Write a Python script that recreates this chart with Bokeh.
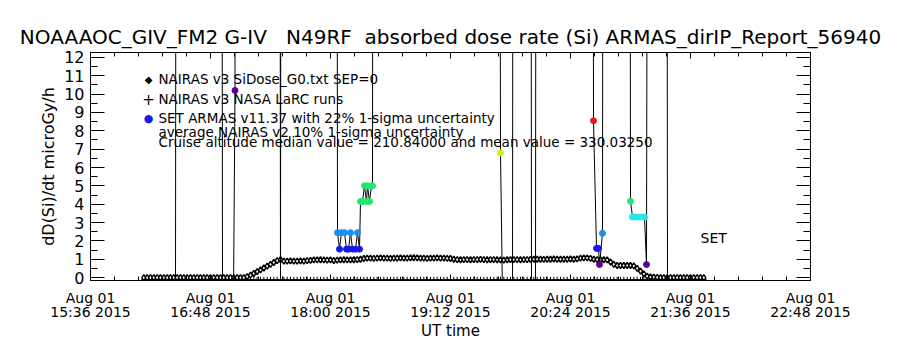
import numpy as np
from bokeh.plotting import figure
from bokeh.models import (Range1d, LinearAxis, FixedTicker, Label, Title,
                          ColumnDataSource, LinearColorMapper)
from bokeh.transform import transform
from bokeh.embed import file_html
from bokeh.resources import INLINE

# ---------------- data (time = minutes after 00:00 UT, Aug 01 2015) ----------------
TICK_MIN = [936, 1008, 1080, 1152, 1224, 1296, 1368]
TICK_DATES = ["Aug 01"] * 7
TICK_TIMES = ["15:36 2015", "16:48 2015", "18:00 2015", "19:12 2015",
              "20:24 2015", "21:36 2015", "22:48 2015"]
Y_TICKS = list(range(0, 13))

# NAIRAS model time grid (2-minute steps)
NAIRAS_T = list(range(968, 1306, 2))
NAIRAS_SIDOSE = [
    0.0, 0.0, 0.0, 0.0, 0.0, 0.0, 0.0, 0.0, 0.0, 0.0, 0.0, 0.0, 0.0, 0.0, 0.0, 0.0,
    0.0, 0.0, 0.0, 0.0, 0.0, 0.0, 0.0, 0.0, 0.0, 0.0, 0.0, 0.0, 0.0, 0.0, 0.0,
    0.05, 0.13, 0.22, 0.32, 0.42, 0.52, 0.62, 0.72, 0.82, 0.92, 0.98,
    0.90, 0.90, 0.91, 0.90, 0.90, 0.91, 0.90, 0.92, 0.94,
    0.96, 0.96, 0.97, 0.96, 0.95, 0.96, 0.93, 0.95, 0.96, 0.97, 0.96, 0.96, 0.97, 0.98, 1.0,
    1.04, 1.06, 1.06, 1.05, 1.06, 1.07, 1.06, 1.06, 1.05, 1.06, 1.06, 1.07, 1.06, 1.06,
    1.07, 1.08, 1.07, 1.06, 1.06, 1.05, 1.06, 1.06, 1.07, 1.06, 1.06, 1.05, 1.04,
    1.0, 0.98, 0.97, 0.98, 0.98, 0.97, 0.98, 0.98, 0.99, 0.98, 0.97, 0.98,
    0.98, 0.97, 0.96, 0.95, 0.97, 0.98, 0.98, 0.98, 0.97, 0.98, 0.98, 0.99,
    1.0, 1.0, 1.0, 0.99, 1.0, 1.0, 1.01, 1.0, 1.0, 1.0, 1.0, 1.01, 1.0, 1.02,
    1.06, 1.07, 1.07, 1.05,
    1.0, 0.98, 0.98, 0.97, 0.96,
    0.85, 0.72,
    0.66, 0.66, 0.66, 0.66, 0.66, 0.64,
    0.50, 0.35, 0.20, 0.08,
    0.03, 0.02, 0.01, 0.0, 0.0, 0.0, 0.0, 0.0, 0.0, 0.0, 0.0, 0.0, 0.0, 0.0, 0.0, 0.0, 0.0,
]
LARC_DOSE = [
    -0.12, -0.12, -0.12, -0.12, -0.12, -0.12, -0.12, -0.12, -0.12, -0.12, -0.12, -0.12, -0.12,
    -0.12, -0.12, -0.12, -0.12, -0.12, -0.12, -0.12, -0.12, -0.12, -0.12, -0.12, -0.12, -0.12,
    -0.12, -0.12, -0.12, -0.12, -0.12, -0.12, -0.12, -0.12, -0.12, -0.12, -0.12, -0.12, -0.12,
    -0.12, -0.12, -0.12, -0.12, -0.12, -0.12, -0.12, -0.12, -0.12, -0.12, -0.12, -0.12, -0.12,
    -0.12, -0.12, -0.12, -0.12, -0.12, -0.12, -0.12, -0.12, -0.12, -0.12, -0.12, -0.12, -0.12,
    -0.12, -0.12, -0.12, -0.12, -0.12, -0.12, -0.12, -0.12, -0.12, -0.12, -0.12, -0.12, -0.12,
    -0.12, -0.12, -0.12, -0.12, -0.12, -0.12, -0.12, -0.12, -0.12, -0.12, -0.12, -0.12, -0.12,
    -0.12, -0.12, -0.12, -0.12, -0.12, -0.12, -0.12, -0.12, -0.12, -0.12, -0.12, -0.12, -0.12,
    -0.12, -0.12, -0.12, -0.12, -0.12, -0.12, -0.12, -0.12, -0.12, -0.12, -0.12, -0.12, -0.12,
    -0.12, -0.12, -0.12, -0.12, -0.12, -0.12, -0.12, -0.12, -0.12, -0.12, -0.12, -0.12, -0.12,
    -0.12, -0.12, -0.12, -0.12, -0.12, -0.12, -0.12, -0.12, -0.12, -0.12, -0.12, -0.12, -0.12,
    -0.12, -0.12, -0.12, -0.12, -0.12, -0.12, -0.12, -0.12, -0.12, -0.12, -0.12, -0.12, -0.12,
    -0.12, -0.12, -0.12, -0.12, -0.12, -0.12, -0.12, -0.12, -0.12, -0.12, -0.12, -0.12, -0.12,
]

# SET ARMAS measurements (values above 12 / below 0 are off scale)
ARMAS_T = [987.0, 987.6, 1014.6, 1015.2, 1021.8, 1022.7, 1023.0, 1049.4, 1050.0, 1050.6,
           1083.6, 1084.2, 1085.4, 1086.6, 1088.4, 1089.6, 1090.8, 1092.0, 1093.2, 1095.0,
           1096.2, 1097.4,
           1098.0, 1099.2, 1100.4, 1101.6, 1102.2, 1103.4, 1104.6, 1105.2, 1105.8,
           1181.1, 1182.0, 1183.2, 1189.2, 1189.8, 1200.0, 1200.6, 1203.0, 1203.6,
           1237.2, 1237.8, 1239.6, 1240.8, 1241.4, 1243.2, 1243.8,
           1259.4, 1260.0, 1261.2, 1263.0, 1264.8, 1266.6, 1268.4, 1269.6, 1270.8,
           1281.6, 1282.2]
ARMAS_DOSE = [-1.0, 60.0, 60.0, -1.0, -1.0, 10.2, 60.0, 60.0, -1.0, 60.0,
              60.0, 2.45, 1.55, 2.45, 2.45, 1.55, 1.55, 2.45, 1.55, 1.55,
              2.45, 1.55,
              4.15, 4.15, 5.0, 4.15, 5.0, 4.15, 5.0, 5.0, 60.0,
              60.0, 6.8, -1.0, -1.0, 60.0, 60.0, -1.0, -1.0, 60.0,
              60.0, 8.55, 1.59, 1.59, 0.71, 2.41, 60.0,
              60.0, 4.16, 3.3, 3.3, 3.3, 3.3, 3.3, 0.71, 60.0,
              60.0, -1.0]

TITLE = "NOAAAOC_GIV_FM2 G-IV\u00a0\u00a0\u00a0N49RF\u00a0\u00a0absorbed dose rate (Si) ARMAS_dirIP_Report_56940"
LEGEND_LINES = ["NAIRAS v3 SiDose_G0.txt SEP=0",
                "NAIRAS v3 NASA LaRC runs",
                "SET ARMAS v11.37 with 22% 1-sigma uncertainty",
                "average NAIRAS v2 10% 1-sigma uncertainty",
                "Cruise altitude median value = 210.84000 and mean value = 330.03250"]

# ---------------- figure ----------------
FONT = "DejaVu Sans"
p = figure(width=900, height=350, output_backend="svg", toolbar_location=None,
           x_range=Range1d(936, 1368), y_range=Range1d(-0.16, 12.27),
           min_border_left=90, min_border_right=90, min_border_top=52, min_border_bottom=70,
           y_axis_label="dD(Si)/dt microGy/h")
p.grid.visible = False
p.outline_line_color = "black"
p.background_fill_color = "white"
p.border_fill_color = "white"

p.title = Title(text=TITLE, align="center", text_font=FONT, text_font_size="20px",
                text_font_style="normal", text_color="black", standoff=7)

x_minor = [936 + 14.4 * k for k in range(31)]
y_minor = [0.5 * k for k in range(25)]

def style_axis(ax, show_labels):
    ax.axis_line_color = "black"
    ax.major_tick_line_color = "black"
    ax.minor_tick_line_color = "black"
    ax.major_tick_out = 0
    ax.minor_tick_out = 0
    ax.major_label_text_font = FONT
    ax.major_label_text_color = "black"
    ax.axis_label_text_font = FONT
    ax.axis_label_text_font_style = "normal"
    ax.axis_label_text_color = "black"
    if not show_labels:
        ax.major_label_text_alpha = 0
        ax.major_label_text_font_size = "1px"

xb = p.xaxis[0]
xb.ticker = FixedTicker(ticks=TICK_MIN, minor_ticks=x_minor)
xb.major_label_overrides = dict(zip(TICK_MIN, TICK_DATES))
style_axis(xb, True)
xb.major_tick_in = 6
xb.minor_tick_in = 4
xb.major_label_text_font_size = "14px"
xb.major_label_standoff = 9

xb2 = LinearAxis(ticker=FixedTicker(ticks=TICK_MIN, minor_ticks=[]),
                 major_label_overrides=dict(zip(TICK_MIN, TICK_TIMES)),
                 axis_label="UT time")
style_axis(xb2, True)
xb2.axis_line_color = None
xb2.major_tick_line_color = None
xb2.minor_tick_line_color = None
xb2.major_label_text_font_size = "14px"
xb2.major_label_standoff = -5
xb2.axis_label_text_font_size = "15px"
xb2.axis_label_standoff = -1
p.add_layout(xb2, "below")

yl = p.yaxis[0]
yl.ticker = FixedTicker(ticks=Y_TICKS, minor_ticks=y_minor)
style_axis(yl, True)
yl.major_tick_in = 14
yl.minor_tick_in = 7
yl.major_label_text_font_size = "16px"
yl.major_label_standoff = 6
yl.axis_label_text_font_size = "16px"
yl.axis_label_standoff = 3

xt = LinearAxis(ticker=FixedTicker(ticks=TICK_MIN, minor_ticks=x_minor))
style_axis(xt, False)
xt.major_tick_in = 6
xt.minor_tick_in = 4
p.add_layout(xt, "above")

yr = LinearAxis(ticker=FixedTicker(ticks=Y_TICKS, minor_ticks=y_minor))
style_axis(yr, False)
yr.major_tick_in = 14
yr.minor_tick_in = 7
p.add_layout(yr, "right")

# ---------------- glyphs ----------------
nairas = ColumnDataSource(dict(t=NAIRAS_T, sidose=NAIRAS_SIDOSE, larc=LARC_DOSE))
p.scatter("t", "larc", source=nairas, marker="cross", size=6, line_color="black", line_width=1)
p.scatter("t", "sidose", source=nairas, marker="diamond", size=6,
          fill_color="white", line_color="black", line_width=1.5)

armas = ColumnDataSource(dict(t=ARMAS_T, dose=ARMAS_DOSE))
p.line("t", "dose", source=armas, line_color="black", line_width=1)
palette = ["#5a0090", "#1a1ae6", "#1e8cf0", "#28e6e6", "#1ee66e", "#1ee66e",
           "#78f028", "#c8f020", "#f0a000", "#f01414"]
cmap = LinearColorMapper(palette=palette, low=0, high=9,
                         low_color="#5a0090", high_color="#5a0090")
p.scatter("t", "dose", source=armas, marker="circle", size=6,
          fill_color=transform("dose", cmap), line_color=transform("dose", cmap))

# ---------------- in-plot legend text ----------------
LEG_X_SYM = 970.8
LEG_X_TXT = 976.8
LEG_Y = [10.82, 9.73, 8.68, 7.92, 7.37]
syms = [("\u25c6", "black", "10px"), ("+", "black", "15px"), ("\u25cf", "#1a1ae6", "11px")]
for (s, c, fs), yv in zip(syms, LEG_Y[:3]):
    p.add_layout(Label(x=LEG_X_SYM, y=yv, text=s, text_color=c, text_font=FONT,
                       text_font_size=fs, text_align="center", text_baseline="middle"))
for txt, yv in zip(LEGEND_LINES, LEG_Y):
    p.add_layout(Label(x=LEG_X_TXT, y=yv, text=txt, text_color="black", text_font=FONT,
                       text_font_size="13.5px", text_baseline="middle"))

p.add_layout(Label(x=1302, y=2.16, text="SET", text_color="black", text_font=FONT,
                   text_font_size="14px", text_baseline="middle"))

open("out.html", "w").write(file_html(p, INLINE))
